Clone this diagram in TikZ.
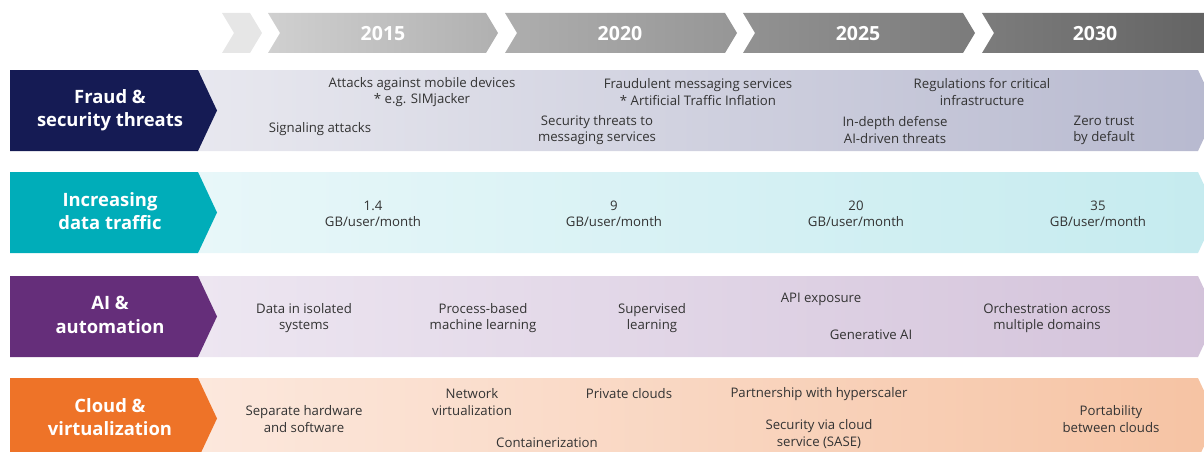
\documentclass[tikz,border=0pt]{standalone}
\usepackage{fontspec}
\setmainfont{Open Sans}
\definecolor{txt}{HTML}{333333}
\definecolor{navy}{HTML}{151B54}
\definecolor{teal}{HTML}{00ADB9}
\definecolor{purp}{HTML}{652E7A}
\definecolor{orng}{HTML}{EE7328}
\begin{document}
\begin{tikzpicture}[x=1pt,y=-1pt,
  lbl/.style={text=white,font=\bfseries\fontsize{18.4}{23.5}\selectfont,align=center,inner sep=0pt},
  yr/.style={text=white,font=\bfseries\fontsize{19.5}{22}\selectfont,inner sep=0pt},
  itm/.style={text=txt,font=\fontsize{13.2}{16.2}\selectfont,align=center,inner sep=0pt}]
\useasboundingbox (0,0) rectangle (1204,452);
\clip (0,0) rectangle (1204,452);
% header chevrons
\fill[color={rgb,255:red,230;green,230;blue,230}] (222,13) -- (250,13) -- (262,33) -- (250,53) -- (222,53) -- (234,33) -- cycle;
\shade[left color={rgb,255:red,208;green,208;blue,208},right color={rgb,255:red,176;green,176;blue,176}] (268,13) -- (486,13) -- (498,33) -- (486,53) -- (268,53) -- (280,33) -- cycle;
\shade[left color={rgb,255:red,174;green,174;blue,174},right color={rgb,255:red,150;green,150;blue,150}] (505,13) -- (725,13) -- (737,33) -- (725,53) -- (505,53) -- (517,33) -- cycle;
\shade[left color={rgb,255:red,146;green,146;blue,146},right color={rgb,255:red,123;green,123;blue,123}] (743,13) -- (963,13) -- (975,33) -- (963,53) -- (743,53) -- (755,33) -- cycle;
\shade[left color={rgb,255:red,124;green,124;blue,124},right color={rgb,255:red,100;green,100;blue,100}] (982,13) -- (1204,13) -- (1204,53) -- (982,53) -- (994,33) -- cycle;
\node[yr] (y15) at (383,34) {2015};
\node[yr] (y20) at (620,34) {2020};
\node[yr] (y25) at (858,34) {2025};
\node[yr] (y30) at (1095,34) {2030};
% bands
\shade[left color={rgb,255:red,232;green,232;blue,239},right color={rgb,255:red,183;green,185;blue,207}] (198,70) -- (1198,70) -- (1217,110.5) -- (1198,151) -- (198,151) -- cycle;
\shade[left color={rgb,255:red,232;green,247;blue,249},right color={rgb,255:red,197;green,235;blue,239}] (198,172) -- (1198,172) -- (1217,212.5) -- (1198,253) -- (198,253) -- cycle;
\shade[left color={rgb,255:red,237;green,230;blue,241},right color={rgb,255:red,211;green,194;blue,218}] (198,276) -- (1198,276) -- (1217,316.5) -- (1198,357) -- (198,357) -- cycle;
\shade[left color={rgb,255:red,252;green,232;blue,221},right color={rgb,255:red,246;green,195;blue,163}] (198,378) -- (1198,378) -- (1217,418.5) -- (1198,459) -- (198,459) -- cycle;
% labels
\fill[navy] (10,70) -- (198,70) -- (217,110.5) -- (198,151) -- (10,151) -- cycle;
\fill[teal] (10,172) -- (198,172) -- (217,212.5) -- (198,253) -- (10,253) -- cycle;
\fill[purp] (10,276) -- (198,276) -- (217,316.5) -- (198,357) -- (10,357) -- cycle;
\fill[orng] (10,378) -- (198,378) -- (217,418.5) -- (198,459) -- (10,459) -- cycle;
\node[lbl] (l1) at (110,110) {Fraud \&\\security threats};
\node[lbl] (l2) at (110,211) {Increasing\\data traffic};
\node[lbl] (l3) at (110,315) {AI \&\\automation};
\node[lbl] (l4) at (110,417) {Cloud \&\\virtualization};
% row 1
\node[itm] (a1) at (422,92) {Attacks against mobile devices\\* e.g. SIMjacker};
\node[itm] (a2) at (320,129) {Signaling attacks};
\node[itm] (a3) at (698,92) {Fraudulent messaging services\\* Artificial Traffic Inflation};
\node[itm] (a4) at (597,130) {Security threats to\\messaging services};
\node[itm] (a5) at (982,92) {Regulations for critical\\infrastructure};
\node[itm] (a6) at (895,130) {In-depth defense\\AI-driven threats};
\node[itm] (a7) at (1104,130) {Zero trust\\by default};
% row 2
\node[itm] (b1) at (373,214) {1.4\\GB/user/month};
\node[itm] (b2) at (614,214) {9\\GB/user/month};
\node[itm] (b3) at (856,214) {20\\GB/user/month};
\node[itm] (b4) at (1098,214) {35\\GB/user/month};
% row 3
\node[itm] (c1) at (304,318) {Data in isolated\\systems};
\node[itm] (c2) at (483,318) {Process-based\\machine learning};
\node[itm] (c3) at (652,318) {Supervised\\learning};
\node[itm] (c4) at (821,299) {API exposure};
\node[itm] (c5) at (871,335) {Generative AI};
\node[itm] (c6) at (1047,318) {Orchestration across\\multiple domains};
% row 4
\node[itm] (d1) at (304,419) {Separate hardware\\and software};
\node[itm] (d2) at (472,402) {Network\\virtualization};
\node[itm] (d3) at (629,394) {Private clouds};
\node[itm] (d4) at (819,394) {Partnership with hyperscaler};
\node[itm] (d5) at (547,443) {Containerization};
\node[itm] (d6) at (819,434) {Security via cloud\\service (SASE)};
\node[itm] (d7) at (1111,419) {Portability\\between clouds};
\end{tikzpicture}
\end{document}
